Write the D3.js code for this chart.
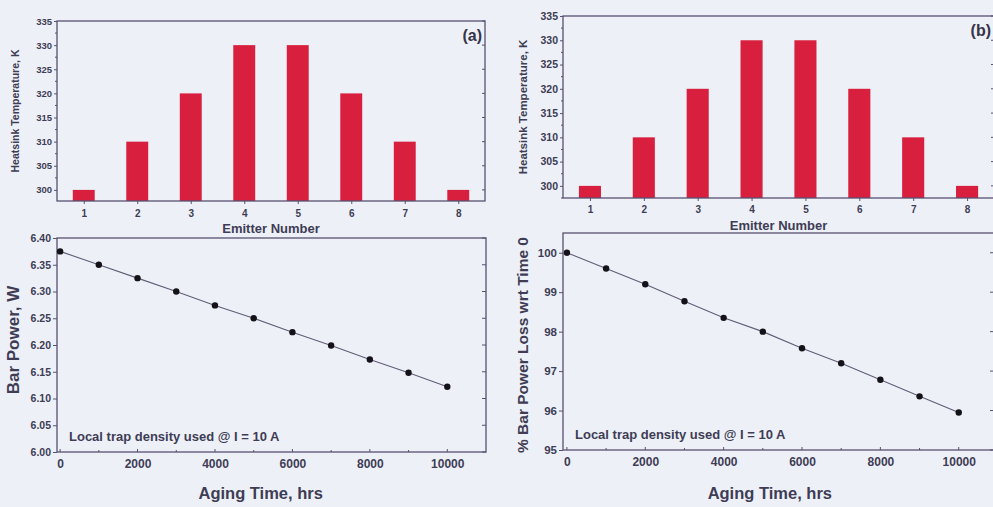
<!DOCTYPE html>
<html>
<head>
<meta charset="utf-8">
<script src="https://cdn.jsdelivr.net/npm/d3@7"></script>
<style>
  html, body { margin: 0; padding: 0; background: #edf1f7; }
  svg { display: block; }
  text { font-family: "Liberation Sans", Arial, sans-serif; }
</style>
</head>
<body>
<svg id="fig" width="993" height="507"></svg>
<script>
// Emitter heatsink temperatures (K)
const emitters = [1, 2, 3, 4, 5, 6, 7, 8];
const tempA = [300, 310, 320, 330, 330, 320, 310, 300];
const tempB = [300, 310, 320, 330, 330, 320, 310, 300];
const tempTicks = [300, 305, 310, 315, 320, 325, 330, 335];

// Aging simulation
const agingHours = [0, 1000, 2000, 3000, 4000, 5000, 6000, 7000, 8000, 9000, 10000];
const barPower = [6.375, 6.350, 6.325, 6.300, 6.274, 6.250, 6.224, 6.199, 6.173, 6.148, 6.122];
const powerPct = [100, 99.6, 99.2, 98.77, 98.35, 98.0, 97.58, 97.2, 96.78, 96.36, 95.95];
const hourTicks = [0, 2000, 4000, 6000, 8000, 10000];
const powerTicks = [6.00, 6.05, 6.10, 6.15, 6.20, 6.25, 6.30, 6.35, 6.40];
const pctTicks = [95, 96, 97, 98, 99, 100];

const AXIS = "#575070";
const TEXT = "#403c55";
const BAR = "#d8203e";

const svg = d3.select("#fig");
svg.append("rect").attr("width", 993).attr("height", 507).attr("fill", "#edf1f7");

function frame(g, x0, x1, y0, y1) {
  g.append("rect")
    .attr("x", x0).attr("y", y0)
    .attr("width", x1 - x0).attr("height", y1 - y0)
    .attr("fill", "none").attr("stroke", AXIS).attr("stroke-width", 1.3);
}

function styleAxis(sel) {
  sel.select(".domain").remove();
  sel.selectAll(".tick line").attr("stroke", AXIS).attr("stroke-width", 1);
  sel.selectAll(".tick text").attr("fill", TEXT);
}

// ---- bar panels ----
function barPanel(cfg) {
  const g = svg.append("g");
  const x = d3.scaleLinear().domain([0.5, 8.5]).range([cfg.x0, cfg.x1]);
  const y = d3.scaleLinear().domain(cfg.yDomain).range([cfg.y1, cfg.y0]);
  const bw = (x(2) - x(1)) * 0.41;

  g.selectAll("rect.bar").data(emitters).join("rect")
    .attr("class", "bar")
    .attr("x", (d) => x(d) - bw / 2)
    .attr("width", bw)
    .attr("y", (d, i) => y(cfg.values[i]))
    .attr("height", (d, i) => cfg.y1 - y(cfg.values[i]))
    .attr("fill", BAR);

  // minor ticks on the left
  const minor = d3.range(297.5, 335.1, 2.5).filter((v) => v >= cfg.yDomain[0] && v % 5 !== 0);
  g.selectAll("line.minl").data(minor).join("line")
    .attr("x1", cfg.x0 - 2).attr("x2", cfg.x0)
    .attr("y1", (d) => y(d)).attr("y2", (d) => y(d))
    .attr("stroke", AXIS);
  // mirrored ticks on the right
  g.selectAll("line.rt").data(tempTicks).join("line")
    .attr("x1", cfg.x1 - 3).attr("x2", cfg.x1)
    .attr("y1", (d) => y(d)).attr("y2", (d) => y(d))
    .attr("stroke", AXIS);

  const ya = g.append("g").attr("transform", `translate(${cfg.x0},0)`)
    .call(d3.axisLeft(y).tickValues(tempTicks).tickSize(3).tickPadding(2).tickFormat(d3.format("d")));
  styleAxis(ya);
  ya.selectAll(".tick text").attr("font-size", cfg.tickFont).attr("font-weight", "bold");

  const xa = g.append("g").attr("transform", `translate(0,${cfg.y1})`)
    .call(d3.axisBottom(x).tickValues(emitters).tickSize(3).tickPadding(cfg.xPad).tickFormat(d3.format("d")));
  styleAxis(xa);
  xa.selectAll(".tick text").attr("font-size", 10).attr("font-weight", "bold");

  frame(g, cfg.x0, cfg.x1, cfg.y0, cfg.y1);

  g.append("text")
    .attr("transform", `translate(${cfg.ylabX},${(cfg.y0 + cfg.y1) / 2}) rotate(-90)`)
    .attr("text-anchor", "middle").attr("font-size", cfg.ylabFont).attr("font-weight", "bold")
    .attr("fill", TEXT).text("Heatsink Temperature, K");

  g.append("text")
    .attr("x", (cfg.x0 + cfg.x1) / 2).attr("y", cfg.y1 + cfg.xlabDy)
    .attr("text-anchor", "middle").attr("font-size", 13).attr("font-weight", "bold")
    .attr("fill", TEXT).text("Emitter Number");

  g.append("text")
    .attr("x", cfg.tagX).attr("y", cfg.tagY)
    .attr("text-anchor", "end").attr("font-size", 16).attr("font-weight", "bold")
    .attr("fill", "#37334a").text(cfg.tag);
}

// ---- aging panels ----
function linePanel(cfg) {
  const g = svg.append("g");
  const x = d3.scaleLinear().domain(cfg.xDomain).range([cfg.x0, cfg.x1]);
  const y = d3.scaleLinear().domain(cfg.yDomain).range([cfg.y1, cfg.y0]);

  // mirrored ticks on the right
  g.selectAll("line.rt").data(cfg.yTicks).join("line")
    .attr("x1", cfg.x1 - 4).attr("x2", cfg.x1)
    .attr("y1", (d) => y(d)).attr("y2", (d) => y(d))
    .attr("stroke", AXIS);
  // inward ticks on the bottom
  g.selectAll("line.bt").data(d3.range(0, 10001, 1000)).join("line")
    .attr("x1", (d) => x(d)).attr("x2", (d) => x(d))
    .attr("y1", cfg.y1).attr("y2", (d) => cfg.y1 - (d % 2000 === 0 ? 3 : 2))
    .attr("stroke", AXIS);

  const ya = g.append("g").attr("transform", `translate(${cfg.x0},0)`)
    .call(d3.axisLeft(y).tickValues(cfg.yTicks).tickSize(4).tickPadding(2).tickFormat(cfg.yFormat));
  styleAxis(ya);
  ya.selectAll(".tick text").attr("font-size", cfg.yTickFont).attr("font-weight", "bold");

  const xa = g.append("g").attr("transform", `translate(0,${cfg.y1})`)
    .call(d3.axisBottom(x).tickValues(hourTicks).tickSize(0).tickPadding(7).tickFormat(d3.format("d")));
  styleAxis(xa);
  xa.selectAll(".tick text").attr("font-size", 12).attr("font-weight", "bold");

  frame(g, cfg.x0, cfg.x1, cfg.y0, cfg.y1);

  const pts = agingHours.map((h, i) => [h, cfg.values[i]]);
  g.append("path")
    .datum(pts)
    .attr("fill", "none").attr("stroke", "#625c78").attr("stroke-width", 1.1)
    .attr("d", d3.line().x((d) => x(d[0])).y((d) => y(d[1])));
  g.selectAll("circle").data(pts).join("circle")
    .attr("cx", (d) => x(d[0])).attr("cy", (d) => y(d[1])).attr("r", 3.2)
    .attr("fill", "#141218");

  g.append("text")
    .attr("x", cfg.noteX).attr("y", cfg.noteY)
    .attr("font-size", 13).attr("font-weight", "bold").attr("fill", TEXT)
    .text("Local trap density used @ I = 10 A");

  g.append("text")
    .attr("transform", `translate(${cfg.ylabX},${cfg.ylabY}) rotate(-90)`)
    .attr("text-anchor", "middle").attr("font-size", cfg.ylabFont).attr("font-weight", "bold")
    .attr("fill", TEXT).text(cfg.ylab);

  g.append("text")
    .attr("x", x(5000) + 7).attr("y", 499)
    .attr("text-anchor", "middle").attr("font-size", 16.5).attr("font-weight", "bold")
    .attr("fill", TEXT).text("Aging Time, hrs");
}

barPanel({
  x0: 57, x1: 485, y0: 21, y1: 201, yDomain: [297.7, 335], values: tempA,
  tickFont: 9.5, ylabX: 19, ylabFont: 10.5, tag: "(a)", tagX: 482, tagY: 41,
  xPad: 6, xlabDy: 32
});
barPanel({
  x0: 563, x1: 994, y0: 16, y1: 198, yDomain: [297.5, 335], values: tempB,
  tickFont: 10.5, ylabX: 527, ylabFont: 11.5, tag: "(b)", tagX: 991, tagY: 36,
  xPad: 5, xlabDy: 32
});

linePanel({
  x0: 57, x1: 486, y0: 238, y1: 452, xDomain: [-80, 11000], yDomain: [6.00, 6.40],
  yTicks: powerTicks, yFormat: d3.format(".2f"), yTickFont: 10.5, values: barPower,
  noteX: 69, noteY: 441, ylabX: 19, ylabY: 340, ylabFont: 17, ylab: "Bar Power, W"
});
linePanel({
  x0: 563, x1: 994, y0: 233, y1: 450, xDomain: [-100, 10900], yDomain: [95, 100.5],
  yTicks: pctTicks, yFormat: d3.format("d"), yTickFont: 11.5, values: powerPct,
  noteX: 575, noteY: 439, ylabX: 528, ylabY: 345, ylabFont: 15.5, ylab: "% Bar Power Loss wrt Time 0"
});
</script>
</body>
</html>
